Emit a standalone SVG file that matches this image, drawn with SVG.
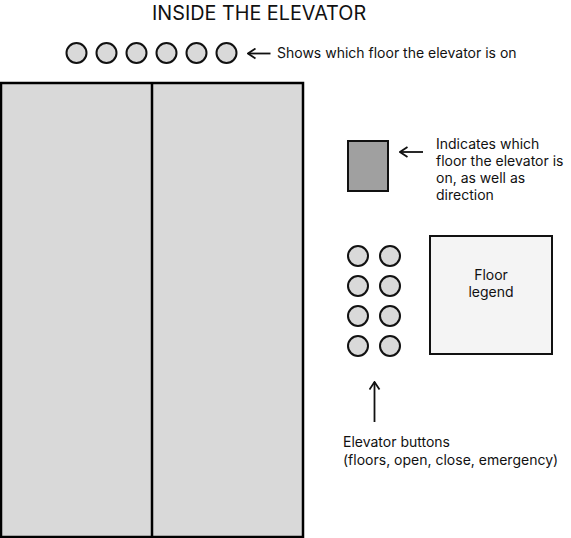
<svg xmlns="http://www.w3.org/2000/svg" width="571" height="538" viewBox="0 0 571 538">
<defs>
<style>
.t{font-family:Inter,"Noto Sans","Liberation Sans",sans-serif;font-size:14px;fill:#111}
.title{font-family:Inter,"Noto Sans","Liberation Sans",sans-serif;font-size:19.8px;fill:#111}
.btn{fill:#d9d9d9;stroke:#111;stroke-width:2}
.ln{stroke:#111;stroke-width:1.8;fill:none}
</style>
<marker id="ah" viewBox="0 0 10 12" refX="9" refY="6" markerWidth="10" markerHeight="12" markerUnits="userSpaceOnUse" orient="auto">
<path d="M1.5,1 L9,6 L1.5,11" fill="none" stroke="#111" stroke-width="1.8"/>
</marker>
</defs>
<rect width="571" height="538" fill="#fff"/>
<text class="title" x="152" y="20">INSIDE THE ELEVATOR</text>
<g id="floor-indicators">
<circle class="btn" cx="76.5" cy="53" r="10"/>
<circle class="btn" cx="106.5" cy="53" r="10"/>
<circle class="btn" cx="136.5" cy="53" r="10"/>
<circle class="btn" cx="166.5" cy="53" r="10"/>
<circle class="btn" cx="196.5" cy="53" r="10"/>
<circle class="btn" cx="226.5" cy="53" r="10"/>
</g>
<g id="doors">
<rect x="1" y="83" width="302" height="454" fill="#d9d9d9" stroke="#000" stroke-width="2.5"/>
<line x1="152" y1="83" x2="152" y2="537" stroke="#000" stroke-width="2.5"/>
</g>
<g id="direction-display">
<rect x="348" y="141" width="40" height="50" fill="#a0a0a0" stroke="#111" stroke-width="2"/>
</g>
<g id="buttons">
<circle class="btn" cx="358" cy="256" r="10"/>
<circle class="btn" cx="390" cy="256" r="10"/>
<circle class="btn" cx="358" cy="286" r="10"/>
<circle class="btn" cx="390" cy="286" r="10"/>
<circle class="btn" cx="358" cy="316" r="10"/>
<circle class="btn" cx="390" cy="316" r="10"/>
<circle class="btn" cx="358" cy="346" r="10"/>
<circle class="btn" cx="390" cy="346" r="10"/>
</g>
<g id="floor-legend">
<rect x="430" y="236" width="122" height="118" fill="#f4f4f4" stroke="#111" stroke-width="2"/>
<text class="t" x="491" y="280" text-anchor="middle">Floor</text>
<text class="t" x="491" y="297" text-anchor="middle">legend</text>
</g>
<g id="connectors">
<line class="ln" x1="270.5" y1="53.5" x2="248" y2="53.5" marker-end="url(#ah)"/>
<line class="ln" x1="423" y1="152" x2="400" y2="152" marker-end="url(#ah)"/>
<line class="ln" x1="374.5" y1="422" x2="374.5" y2="382" marker-end="url(#ah)"/>
</g>
<g id="labels">
<text class="t" x="277" y="58">Shows which floor the elevator is on</text>
<text class="t" x="436" y="149">Indicates which</text>
<text class="t" x="436" y="166">floor the elevator is</text>
<text class="t" x="436" y="183">on, as well as</text>
<text class="t" x="436" y="200">direction</text>
<text class="t" x="343" y="447">Elevator buttons</text>
<text class="t" x="343" y="465">(floors, open, close, emergency)</text>
</g>
</svg>
